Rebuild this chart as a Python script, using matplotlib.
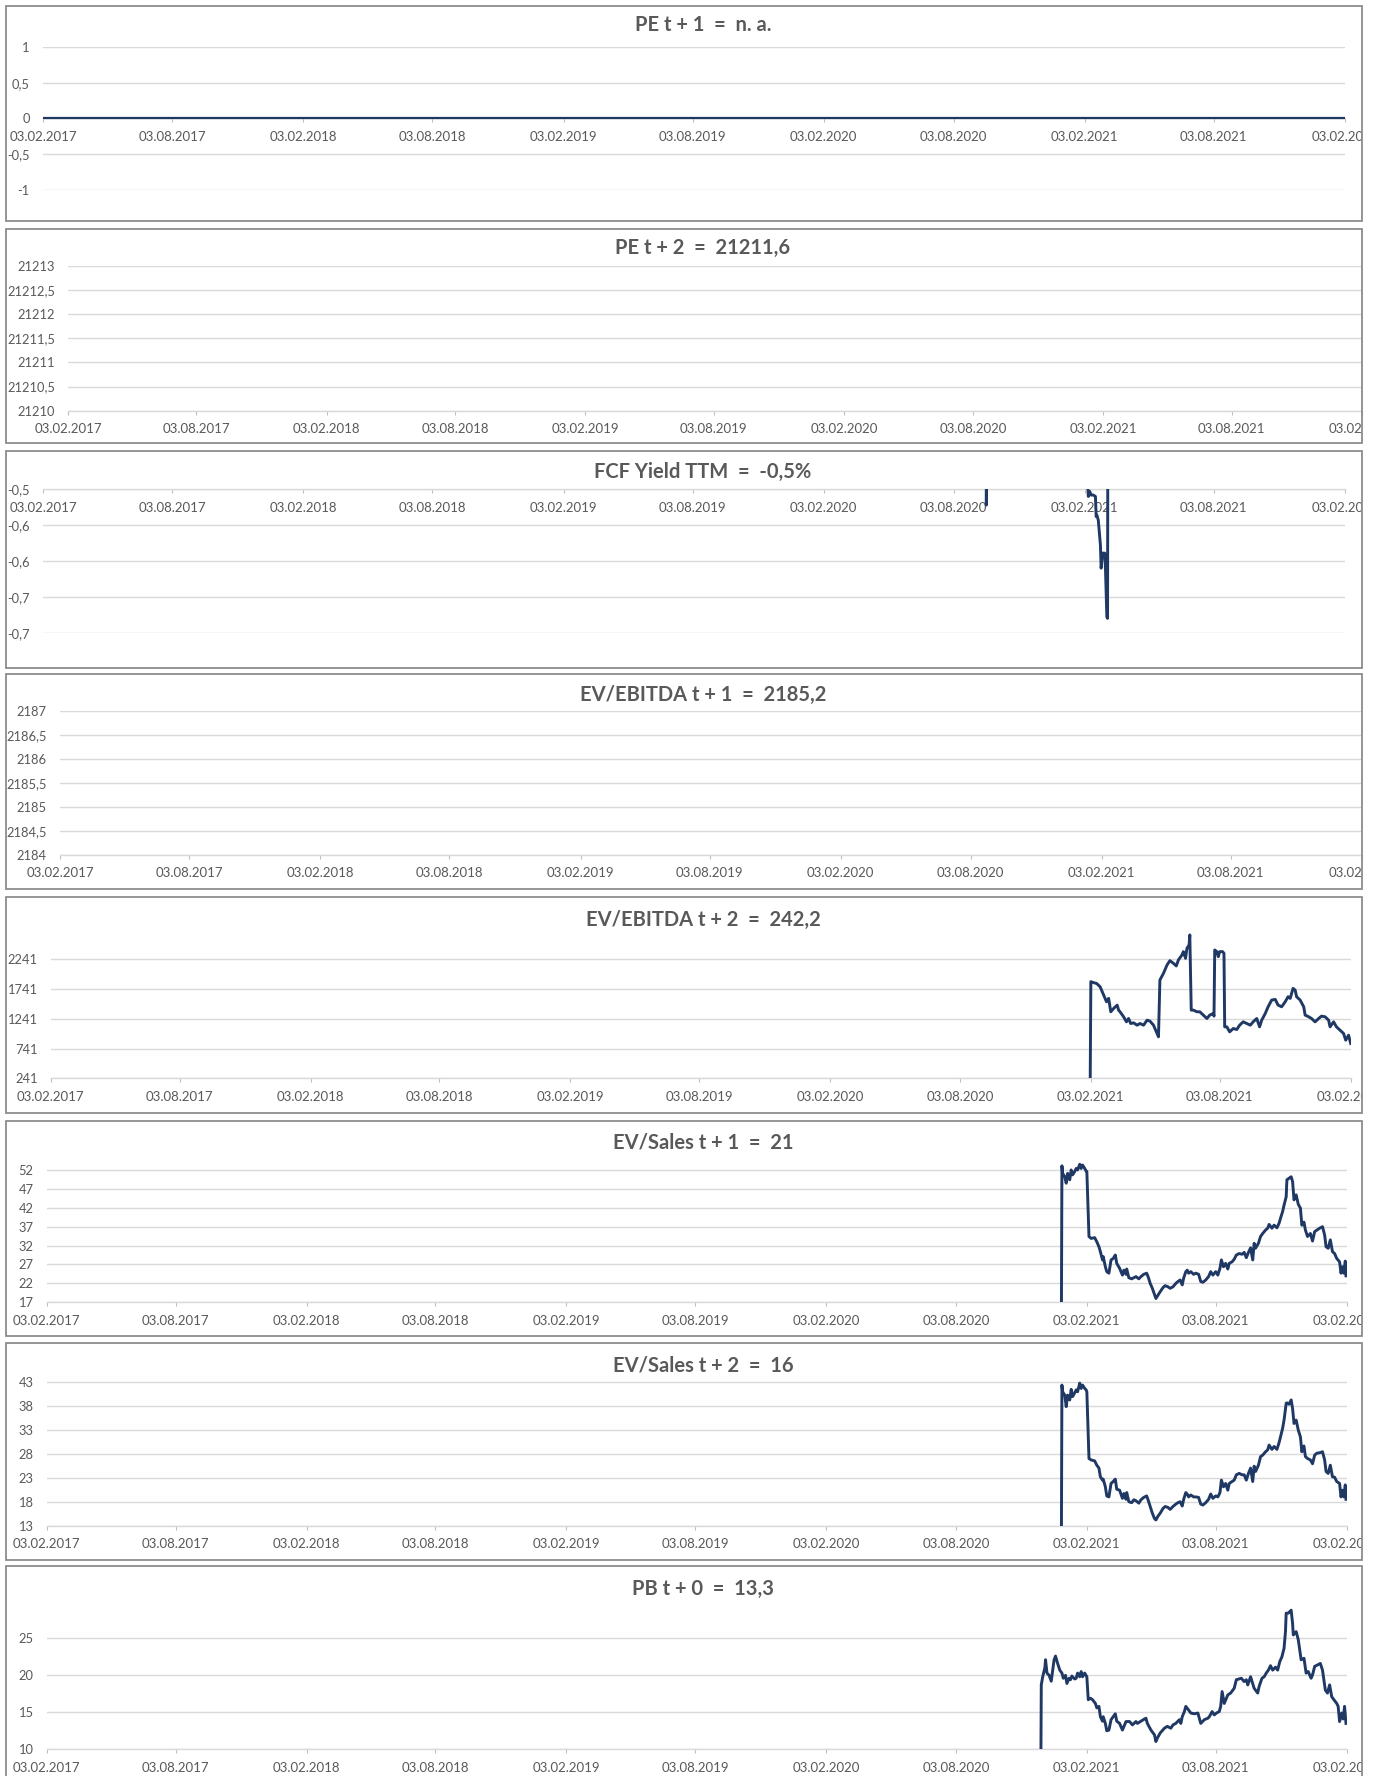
import matplotlib
matplotlib.use("Agg")
import matplotlib.pyplot as plt
import matplotlib.dates as mdates
from matplotlib.patches import Rectangle
from matplotlib.ticker import FixedLocator, FixedFormatter
from datetime import datetime

plt.rcParams['font.family'] = ['Lato', 'DejaVu Sans']

# ---------------- data ----------------
XTICK_LABELS = ["03.02.2017", "03.08.2017", "03.02.2018", "03.08.2018", "03.02.2019",
                "03.08.2019", "03.02.2020", "03.08.2020", "03.02.2021", "03.08.2021",
                "03.02.2022"]
X_START, X_END = "2017-02-03", "2022-02-03"

TITLES = ["PE t + 1  =  n. a.", "PE t + 2  =  21211,6", "FCF Yield TTM  =  -0,5%",
          "EV/EBITDA t + 1  =  2185,2", "EV/EBITDA t + 2  =  242,2",
          "EV/Sales t + 1  =  21", "EV/Sales t + 2  =  16", "PB t + 0  =  13,3"]

PE_T1_DATES = ["2017-02-03", "2022-02-03"]
PE_T1_VALUES = [0, 0]
PE_T2_DATES = ["2017-02-03", "2022-02-03"]
PE_T2_VALUES = [0, 0]
EV_EBITDA_T1_DATES = ["2017-02-03", "2022-02-03"]
EV_EBITDA_T1_VALUES = [0, 0]

FCF_DATES = ["2017-02-03", "2020-09-17", "2020-09-18", "2020-09-21", "2021-02-05",
             "2021-02-08", "2021-02-10", "2021-02-12", "2021-02-15", "2021-02-18",
             "2021-02-19", "2021-02-20", "2021-02-22", "2021-02-25", "2021-02-26",
             "2021-02-28", "2021-03-03", "2021-03-04", "2021-03-06", "2021-03-07",
             "2021-03-08", "2022-02-03"]
FCF_VALUES = [0, 0, -0.522, 0, -0.45,
              -0.510, -0.503, -0.508, -0.508, -0.510,
              -0.538, -0.536, -0.543, -0.578, -0.610,
              -0.589, -0.589, -0.608, -0.678, -0.680,
              0, 0]

EV_EBITDA_T2_DATES = [
    "2017-02-03", "2021-02-02", "2021-02-03", "2021-02-07", "2021-02-11", "2021-02-16",
    "2021-02-20", "2021-02-25", "2021-02-28", "2021-03-03", "2021-03-07", "2021-03-12",
    "2021-03-14", "2021-03-16", "2021-03-21", "2021-03-25", "2021-03-28", "2021-03-31",
    "2021-04-04", "2021-04-09", "2021-04-13", "2021-04-18", "2021-04-23", "2021-04-27",
    "2021-05-02", "2021-05-07", "2021-05-09", "2021-05-11", "2021-05-16", "2021-05-21",
    "2021-05-25", "2021-05-30", "2021-06-03", "2021-06-06", "2021-06-11", "2021-06-13",
    "2021-06-16", "2021-06-18", "2021-06-21", "2021-06-22", "2021-06-24", "2021-06-27",
    "2021-07-02", "2021-07-06", "2021-07-11", "2021-07-16", "2021-07-20", "2021-07-25",
    "2021-07-26", "2021-07-27", "2021-07-30", "2021-08-01", "2021-08-03", "2021-08-07",
    "2021-08-09", "2021-08-10", "2021-08-13", "2021-08-17", "2021-08-22", "2021-08-27",
    "2021-08-31", "2021-09-05", "2021-09-10", "2021-09-15", "2021-09-19", "2021-09-24",
    "2021-09-28", "2021-10-01", "2021-10-06", "2021-10-10", "2021-10-15", "2021-10-20",
    "2021-10-24", "2021-10-29", "2021-11-03", "2021-11-07", "2021-11-10", "2021-11-14",
    "2021-11-17", "2021-11-19", "2021-11-24", "2021-11-29", "2021-12-01", "2021-12-06",
    "2021-12-10", "2021-12-15", "2021-12-20", "2021-12-24", "2021-12-29", "2022-01-03",
    "2022-01-05", "2022-01-10", "2022-01-14", "2022-01-19", "2022-01-24", "2022-01-27",
    "2022-01-31", "2022-02-03"]
EV_EBITDA_T2_VALUES = [
    0, 0, 1865, 1848, 1836, 1780,
    1668, 1527, 1584, 1359, 1415, 1471,
    1387, 1359, 1275, 1190, 1246, 1162,
    1173, 1134, 1162, 1134, 1218, 1202,
    1134, 994, 938, 1893, 2005, 2145,
    2218, 2174, 2129, 2230, 2314, 2370,
    2258, 2426, 2483, 2651, 1387, 1387,
    1359, 1359, 1303, 1246, 1303, 1331,
    1286, 2398, 2370, 2286, 2370, 2370,
    2342, 1106, 1106, 1022, 1078, 1061,
    1134, 1190, 1162, 1134, 1190, 1246,
    1106, 1218, 1331, 1443, 1556, 1567,
    1471, 1443, 1527, 1612, 1584, 1752,
    1724, 1612, 1556, 1443, 1303, 1275,
    1246, 1190, 1246, 1286, 1275, 1218,
    1106, 1190, 1106, 1050, 994, 881,
    966, 825]

EV_SALES_DATES = [
    "2017-02-03", "2020-12-29",
    "2020-12-30", "2020-12-31", "2021-01-03", "2021-01-05", "2021-01-07", "2021-01-10",
    "2021-01-12", "2021-01-14", "2021-01-17", "2021-01-19", "2021-01-21", "2021-01-24",
    "2021-01-26", "2021-01-28", "2021-01-31", "2021-02-02", "2021-02-03",
    "2021-02-06", "2021-02-09", "2021-02-14", "2021-02-17", "2021-02-20", "2021-02-22",
    "2021-02-25", "2021-02-26", "2021-03-01", "2021-03-03", "2021-03-06",
    "2021-03-09", "2021-03-12", "2021-03-15", "2021-03-17", "2021-03-21", "2021-03-25",
    "2021-03-27", "2021-03-30", "2021-03-31", "2021-04-03", "2021-04-07", "2021-04-10",
    "2021-04-13", "2021-04-17", "2021-04-20", "2021-04-24", "2021-04-28", "2021-04-30",
    "2021-05-03", "2021-05-06", "2021-05-09", "2021-05-11", "2021-05-14", "2021-05-17",
    "2021-05-21", "2021-05-24", "2021-05-28", "2021-05-31", "2021-06-04", "2021-06-08",
    "2021-06-11", "2021-06-14", "2021-06-17", "2021-06-19", "2021-06-22", "2021-06-24",
    "2021-06-26", "2021-06-29", "2021-07-03", "2021-07-06", "2021-07-10",
    "2021-07-13", "2021-07-16", "2021-07-20", "2021-07-24", "2021-07-27", "2021-07-30",
    "2021-08-03", "2021-08-06", "2021-08-09", "2021-08-11", "2021-08-14", "2021-08-17",
    "2021-08-20", "2021-08-22", "2021-08-26", "2021-08-29", "2021-09-01", "2021-09-05",
    "2021-09-09", "2021-09-12", "2021-09-15", "2021-09-18", "2021-09-21", "2021-09-24",
    "2021-09-26", "2021-09-28", "2021-10-02",
    "2021-10-05", "2021-10-08", "2021-10-12", "2021-10-15", "2021-10-17", "2021-10-21",
    "2021-10-24", "2021-10-28", "2021-10-31", "2021-11-02", "2021-11-05", "2021-11-07",
    "2021-11-10", "2021-11-11", "2021-11-14", "2021-11-17", "2021-11-19", "2021-11-21",
    "2021-11-24", "2021-11-27", "2021-11-30",
    "2021-12-02", "2021-12-05", "2021-12-07", "2021-12-10", "2021-12-14", "2021-12-17",
    "2021-12-20", "2021-12-23", "2021-12-27", "2021-12-31", "2022-01-03", "2022-01-05",
    "2022-01-08", "2022-01-11", "2022-01-14", "2022-01-17", "2022-01-20", "2022-01-24",
    "2022-01-26", "2022-01-28", "2022-01-30", "2022-02-01", "2022-02-02"]

EV_SALES_T1_VALUES = [
    0, 0,
    53.1, 51.1, 50.2, 48.5, 51.1, 49.4, 52.0, 50.7, 51.6, 52.4, 52.0, 53.5, 52.4, 53.3, 52.4, 51.7, 51.6,
    34.4, 33.9, 34.1, 33.0, 31.7, 30.4, 28.2, 29.1, 26.4, 25.1, 24.7,
    28.2, 28.6, 29.5, 27.3, 26.0, 24.2, 25.5, 24.4, 25.8, 23.5, 23.2, 23.5, 23.8, 23.2, 23.8, 24.4, 24.7, 23.8,
    22.0, 20.7, 19.1, 18.0, 18.9, 19.8, 20.9, 21.4, 21.1, 20.7, 21.1, 22.0, 22.5, 22.9, 21.6, 23.4, 25.1, 25.5,
    24.7, 25.1, 24.4, 24.7, 24.4,
    22.5, 22.3, 22.9, 23.8, 25.1, 24.2, 25.1, 24.2, 26.0, 28.2, 26.4, 27.3, 25.8, 27.3, 27.7, 28.4, 29.5, 29.9,
    29.7, 30.2, 28.8, 30.2, 31.4, 28.2, 32.6, 31.3, 32.6,
    34.4, 35.2, 36.1, 36.6, 37.6, 36.6, 37.4, 36.7, 37.9, 39.2, 41.0, 42.7, 44.9, 49.4, 49.8, 50.2, 48.9, 44.1,
    45.4, 42.9, 41.9,
    37.4, 38.2, 36.1, 34.4, 35.2, 33.2, 35.7, 36.1, 36.6, 37.0, 34.8, 31.7, 31.3, 33.5, 30.4, 29.9, 28.6, 27.7,
    24.7, 26.4, 24.7, 27.9, 24.0]

EV_SALES_T2_VALUES = [
    0, 0,
    42.3, 40.9, 40.2, 37.8, 40.2, 39.2, 41.4, 39.9, 40.7, 41.3, 40.9, 42.7, 41.6, 42.3, 41.6, 41.3, 40.9,
    27.0, 26.7, 26.5, 25.6, 25.0, 23.2, 22.5, 22.7, 21.1, 19.2, 19.0,
    21.8, 22.2, 22.7, 20.6, 20.4, 18.7, 19.7, 18.5, 19.9, 18.0, 17.8, 18.4, 18.2, 17.7, 18.4, 18.9, 19.2, 18.4,
    17.0, 15.6, 14.5, 14.2, 15.0, 15.6, 16.6, 17.0, 16.8, 16.4, 17.0, 17.5, 17.8, 18.0, 17.1, 18.5, 19.9, 19.6,
    19.0, 19.4, 19.0, 19.0, 18.9,
    17.5, 17.3, 17.8, 18.5, 19.6, 18.7, 19.2, 19.0, 19.9, 22.5, 21.1, 21.8, 20.4, 21.8, 22.2, 22.5, 23.6, 23.9,
    23.6, 23.6, 22.5, 23.9, 25.0, 22.2, 25.4, 24.3, 25.6,
    27.4, 27.7, 28.4, 28.8, 29.8, 28.9, 29.5, 28.9, 30.3, 31.5, 33.3, 35.0, 38.5, 38.6, 38.3, 39.2, 37.4, 34.3,
    35.0, 32.9, 31.5,
    28.4, 29.6, 27.4, 27.0, 26.7, 25.9, 27.7, 28.1, 28.2, 28.4, 26.7, 24.3, 23.9, 25.6, 23.2, 23.1, 22.2, 21.8,
    19.0, 20.4, 19.0, 21.5, 18.5]

PB_DATES = [
    "2017-02-03", "2020-11-30",
    "2020-12-01", "2020-12-03", "2020-12-06", "2020-12-07", "2020-12-09", "2020-12-12",
    "2020-12-15", "2020-12-17", "2020-12-19", "2020-12-21", "2020-12-24", "2020-12-27",
    "2020-12-30", "2021-01-01", "2021-01-04", "2021-01-06", "2021-01-09", "2021-01-11",
    "2021-01-13", "2021-01-17", "2021-01-19", "2021-01-21", "2021-01-24", "2021-01-26",
    "2021-01-28", "2021-01-31", "2021-02-03", "2021-02-05", "2021-02-08", "2021-02-11",
    "2021-02-15", "2021-02-17", "2021-02-20", "2021-02-22", "2021-02-25", "2021-02-26",
    "2021-03-01", "2021-03-03", "2021-03-06", "2021-03-09", "2021-03-12", "2021-03-15",
    "2021-03-17", "2021-03-21", "2021-03-25", "2021-03-30", "2021-04-04", "2021-04-08",
    "2021-04-13", "2021-04-15", "2021-04-25", "2021-04-27", "2021-04-29", "2021-05-04",
    "2021-05-09", "2021-05-11", "2021-05-13", "2021-05-17", "2021-05-23", "2021-05-27",
    "2021-06-01", "2021-06-04", "2021-06-08", "2021-06-13", "2021-06-15", "2021-06-17",
    "2021-06-20", "2021-06-22", "2021-06-26", "2021-06-29", "2021-07-04", "2021-07-09",
    "2021-07-13", "2021-07-18", "2021-07-23", "2021-07-25", "2021-07-29", "2021-08-01",
    "2021-08-04", "2021-08-08", "2021-08-10", "2021-08-12", "2021-08-15", "2021-08-20",
    "2021-08-24", "2021-08-29", "2021-09-01", "2021-09-08", "2021-09-12", "2021-09-15",
    "2021-09-17", "2021-09-21", "2021-09-26", "2021-10-01", "2021-10-03", "2021-10-07",
    "2021-10-10", "2021-10-13", "2021-10-16", "2021-10-19", "2021-10-22", "2021-10-26",
    "2021-10-29", "2021-11-01", "2021-11-04", "2021-11-07", "2021-11-09", "2021-11-10",
    "2021-11-13", "2021-11-17", "2021-11-19", "2021-11-20", "2021-11-24", "2021-11-27",
    "2021-12-01", "2021-12-05", "2021-12-08", "2021-12-11", "2021-12-15", "2021-12-17",
    "2021-12-20", "2021-12-24", "2021-12-28", "2021-12-31", "2022-01-01", "2022-01-04",
    "2022-01-07", "2022-01-10", "2022-01-13", "2022-01-16", "2022-01-20", "2022-01-22",
    "2022-01-24", "2022-01-27", "2022-01-29", "2022-01-31", "2022-02-02"]
PB_VALUES = [
    0, 0,
    18.7, 19.8, 21.0, 22.1, 20.3, 20.0,
    19.2, 20.7, 22.1, 22.6, 21.6, 20.7,
    20.3, 19.6, 20.0, 18.9, 19.6, 19.4,
    19.9, 19.5, 19.6, 20.3, 19.8, 20.5,
    19.8, 20.3, 19.8, 16.7, 16.9, 16.7,
    16.2, 15.6, 15.8, 14.4, 13.8, 14.4,
    13.5, 12.5, 12.6, 14.0, 14.4, 14.8,
    13.8, 13.5, 12.6, 13.75, 13.75, 13.3,
    13.75, 13.5, 14.1, 14.2, 13.5, 12.6,
    11.95, 11.05, 11.5, 12.2, 12.85, 13.1,
    12.85, 13.3, 13.5, 14.0, 13.5, 14.4,
    15.1, 15.8, 15.3, 14.9, 14.8, 14.9,
    13.5, 14.0, 14.2, 14.4, 15.1, 14.65,
    14.9, 15.1, 15.8, 17.8, 16.2, 17.35,
    17.6, 18.25, 19.4, 19.6, 19.15, 19.4,
    18.7, 19.8, 18.25, 17.6, 18.5, 19.6,
    19.8, 20.3, 20.7, 21.3, 20.7, 21.1,
    20.7, 21.85, 22.5, 23.65, 25.9, 28.4,
    28.4, 28.8, 27.0, 25.45, 25.9, 24.8,
    22.1, 22.3, 20.3, 20.5, 19.6, 20.05,
    21.2, 21.4, 21.6, 20.7, 20.05, 18.0,
    17.6, 18.7, 17.1, 16.7, 16.2, 15.8,
    13.75, 14.9, 14.1, 15.8, 13.5]

# ---------------- styling ----------------
W, H = 1377, 1776
LINE = '#1f3864'
GRID = '#d9d9d9'
TXT = '#595959'
BORDER = '#8c8c8c'
TICKC = '#bfbfbf'

fig = plt.figure(figsize=(W / 100, H / 100), dpi=100)
fig.patch.set_facecolor('white')

panels = [
    dict(dates=PE_T1_DATES, values=PE_T1_VALUES, ylim=(-1, 1), lw=1.6,
         yticks=[1, 0.5, 0, -0.5, -1], ylabels=["1", "0,5", "0", "-0,5", "-1"], cross=0,
         box=(5.7, 5.7, 1362, 221), plot=(43, 47, 1345, 190), ty=25),
    dict(dates=PE_T2_DATES, values=PE_T2_VALUES, ylim=(21210, 21213), lw=2.1,
         yticks=[21213, 21212.5, 21212, 21211.5, 21211, 21210.5, 21210],
         ylabels=["21213", "21212,5", "21212", "21211,5", "21211", "21210,5", "21210"], cross=21210,
         box=(5.7, 228.7, 1362, 443), plot=(68, 266, 1362, 410.7), ty=248),
    dict(dates=FCF_DATES, values=FCF_VALUES, ylim=(-0.7, -0.5), lw=2.1,
         yticks=[-0.5, -0.55, -0.6, -0.65, -0.7], ylabels=["-0,5", "-0,6", "-0,6", "-0,7", "-0,7"],
         cross=-0.5, box=(5.7, 450.7, 1362, 667.7), plot=(43, 489.3, 1345, 632.7), ty=472),
    dict(dates=EV_EBITDA_T1_DATES, values=EV_EBITDA_T1_VALUES, ylim=(2184, 2187), lw=2.1,
         yticks=[2187, 2186.5, 2186, 2185.5, 2185, 2184.5, 2184],
         ylabels=["2187", "2186,5", "2186", "2185,5", "2185", "2184,5", "2184"], cross=2184,
         box=(5.7, 673.8, 1362, 889), plot=(60, 711.2, 1362, 855), ty=695),
    dict(dates=EV_EBITDA_T2_DATES, values=EV_EBITDA_T2_VALUES, ylim=(241, 2700), lw=2.1,
         yticks=[2241, 1741, 1241, 741, 241], ylabels=["2241", "1741", "1241", "741", "241"],
         cross=241, box=(5.7, 897.3, 1362, 1112.7), plot=(50.7, 932, 1350.7, 1078.3), ty=919.5),
    dict(dates=EV_SALES_DATES, values=EV_SALES_T1_VALUES, ylim=(17, 54), lw=2.1,
         yticks=[52, 47, 42, 37, 32, 27, 22, 17], ylabels=["52", "47", "42", "37", "32", "27", "22", "17"],
         cross=17, box=(5.7, 1120.7, 1362, 1336), plot=(46.7, 1162.4, 1346.7, 1302.3), ty=1142.6),
    dict(dates=EV_SALES_DATES, values=EV_SALES_T2_VALUES, ylim=(13, 44), lw=2.1,
         yticks=[43, 38, 33, 28, 23, 18, 13], ylabels=["43", "38", "33", "28", "23", "18", "13"],
         cross=13, box=(5.7, 1342.7, 1362, 1559.5), plot=(46.7, 1376.9, 1346.7, 1525.7), ty=1365.7),
    dict(dates=PB_DATES, values=PB_VALUES, ylim=(10, 29.5), lw=2.1,
         yticks=[25, 20, 15, 10], ylabels=["25", "20", "15", "10"],
         cross=10, box=(5.7, 1566, 1362, 1795), plot=(46.7, 1605, 1346.7, 1749.3), ty=1588.8),
]

xticks = [mdates.date2num(datetime.strptime(s, "%d.%m.%Y")) for s in XTICK_LABELS]
x0 = mdates.date2num(datetime.strptime(X_START, "%Y-%m-%d"))
x1 = mdates.date2num(datetime.strptime(X_END, "%Y-%m-%d"))

axes_rects = []
for title, p in zip(TITLES, panels):
    bx0, by0, bx1, by1 = p['box']
    rect = Rectangle((bx0 / W, 1 - by1 / H), (bx1 - bx0) / W, (by1 - by0) / H,
                     transform=fig.transFigure, fill=False, edgecolor=BORDER, lw=1.3, zorder=10)
    fig.add_artist(rect)

    px0, py0, px1, py1 = p['plot']
    ax = fig.add_axes([px0 / W, 1 - py1 / H, (px1 - px0) / W, (py1 - py0) / H])
    ax.set_facecolor('none')

    xs = [mdates.date2num(datetime.strptime(d, "%Y-%m-%d")) for d in p['dates']]
    ax.plot(xs, p['values'], color=LINE, lw=p['lw'], zorder=3, solid_joinstyle='round')

    ax.set_xlim(x0, x1)
    ax.set_ylim(*p['ylim'])
    ax.xaxis.set_major_locator(FixedLocator(xticks))
    ax.xaxis.set_major_formatter(FixedFormatter(XTICK_LABELS))
    ax.set_yticks(p['yticks'])
    ax.set_yticklabels(p['ylabels'])

    ax.tick_params(axis='x', length=2.6, width=0.8, color=TICKC, direction='out',
                   labelsize=9.5, labelcolor=TXT, pad=6.3)
    ax.tick_params(axis='y', length=0, labelsize=9.3, labelcolor=TXT, pad=9.5)
    ax.grid(axis='y', color=GRID, lw=1.0)
    ax.set_axisbelow(True)
    for s in ['top', 'left', 'right']:
        ax.spines[s].set_visible(False)
    ax.spines['bottom'].set_position(('data', p['cross']))
    ax.spines['bottom'].set_color(GRID)
    ax.spines['bottom'].set_linewidth(1.0)

    fig.text(703 / W, 1 - p['ty'] / H, title, ha='center', va='center',
             fontsize=14.5, fontweight='bold', color=TXT)
    axes_rects.append((ax, rect))

fig.canvas.draw()
for ax, rect in axes_rects:
    for lab in ax.get_xticklabels():
        lab.set_clip_on(True)
        lab.set_clip_path(rect)

fig.savefig("out.png", dpi=100, facecolor='white')
